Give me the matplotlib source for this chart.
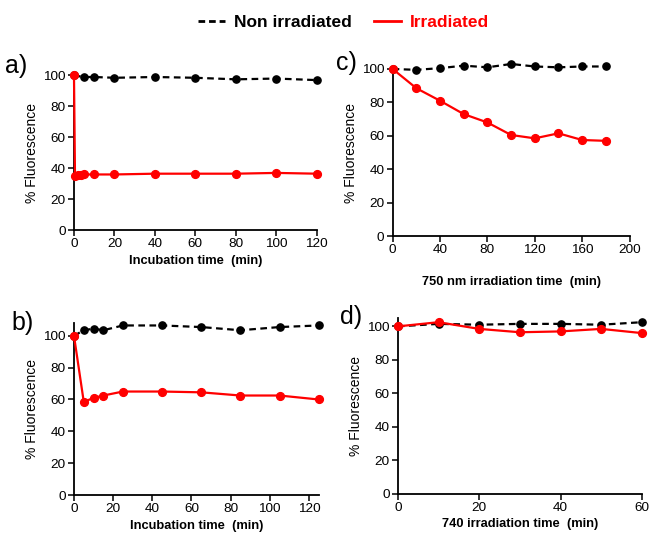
import matplotlib
matplotlib.use("Agg")
import matplotlib.pyplot as plt
from matplotlib.lines import Line2D

plt.rcParams['font.family'] = ['Liberation Sans', 'DejaVu Sans']

# Panel a
a_x_non = [0, 5, 10, 20, 40, 60, 80, 100, 120]
a_y_non = [100, 99, 99, 98.5, 99, 98.5, 97.5, 98, 97]
a_x_irr = [0, 0.5, 2, 3.5, 5, 10, 20, 40, 60, 80, 100, 120]
a_y_irr = [100, 35, 35.5, 35.5, 36, 36, 36, 36.5, 36.5, 36.5, 37, 36.5]

# Panel b
b_x_non = [0, 5, 10, 15, 25, 45, 65, 85, 105, 125]
b_y_non = [100, 103.5, 104.5, 103.5, 106.5, 106.5, 105.5, 103.5, 105.5, 106.5]
b_x_irr = [0, 5, 10, 15, 25, 45, 65, 85, 105, 125]
b_y_irr = [100, 58.5, 61, 62.5, 65, 65, 64.5, 62.5, 62.5, 60]

# Panel c
c_x = [0, 20, 40, 60, 80, 100, 120, 140, 160, 180]
c_y_non = [100, 99.5, 100.5, 102, 101, 103, 101.5, 101, 101.5, 101.5]
c_y_irr = [100, 88.5, 81, 73, 68, 60.5, 58.5, 61.5, 57.5, 57]

# Panel d
d_x = [0, 10, 20, 30, 40, 50, 60]
d_y_non = [100, 101.5, 101, 101.5, 101.5, 101, 102.5]
d_y_irr = [100, 102.5, 98.5, 96.5, 97, 98.5, 96]

fig = plt.figure(figsize=(6.49, 5.39), dpi=100)

def style(ax, xlim, xticks, ylim, xlabel):
    ax.set_xlim(*xlim)
    ax.set_ylim(*ylim)
    ax.set_xticks(xticks)
    ax.set_yticks([0, 20, 40, 60, 80, 100])
    for s in ['top', 'right']:
        ax.spines[s].set_visible(False)
    for s in ['left', 'bottom']:
        ax.spines[s].set_linewidth(1.3)
    ax.tick_params(direction='out', length=4, width=1.1, labelsize=9.7, pad=2)
    ax.set_ylabel('% Fluorescence', fontsize=10, labelpad=3)
    ax.set_xlabel(xlabel, fontsize=9.3, fontweight='bold', labelpad=3)

def plot(ax, xn, yn, xi, yi):
    ax.plot(xn, yn, color='black', linestyle=(0, (3, 2)), linewidth=1.6,
            marker='o', markersize=5.2, clip_on=False, zorder=3)
    ax.plot(xi, yi, color='#ff0000', linestyle='-', linewidth=1.6,
            marker='o', markersize=5.6, clip_on=False, zorder=4)

axa = fig.add_axes([0.114, 0.573, 0.374, 0.287])
plot(axa, a_x_non, a_y_non, a_x_irr, a_y_irr)
style(axa, (0, 120), [0, 20, 40, 60, 80, 100, 120], (0, 100), 'Incubation time  (min)')

axb = fig.add_axes([0.114, 0.0816, 0.377, 0.319])
plot(axb, b_x_non, b_y_non, b_x_irr, b_y_irr)
style(axb, (0, 125), [0, 20, 40, 60, 80, 100, 120], (0, 108), 'Incubation time  (min)')

axc = fig.add_axes([0.605, 0.562, 0.365, 0.31])
plot(axc, c_x, c_y_non, c_x, c_y_irr)
style(axc, (0, 200), [0, 40, 80, 120, 160, 200], (0, 100), '750 nm irradiation time  (min)')
axc.xaxis.labelpad = 14

axd = fig.add_axes([0.613, 0.0835, 0.376, 0.3265])
plot(axd, d_x, d_y_non, d_x, d_y_irr)
style(axd, (0, 60), [0, 20, 40, 60], (0, 105), '740 irradiation time  (min)')

for lab, x, y in [('a)', 0.008, 0.877), ('b)', 0.018, 0.40), ('c)', 0.518, 0.884), ('d)', 0.524, 0.412)]:
    fig.text(x, y, lab, fontsize=18, ha='left', va='center')

handles = [Line2D([0], [0], color='black', linestyle=(0, (2.4, 1.4)), linewidth=2),
           Line2D([0], [0], color='#ff0000', linestyle='-', linewidth=2)]
leg = fig.legend(handles, ['Non irradiated', 'Irradiated'], loc='center',
                 bbox_to_anchor=(0.529, 0.959), ncol=2, frameon=False,
                 prop={'weight': 'bold', 'size': 12.5}, handlelength=1.55,
                 columnspacing=1.3, handletextpad=0.5)
leg.get_texts()[1].set_color('#ff0000')

fig.savefig('out.png', dpi=100)
